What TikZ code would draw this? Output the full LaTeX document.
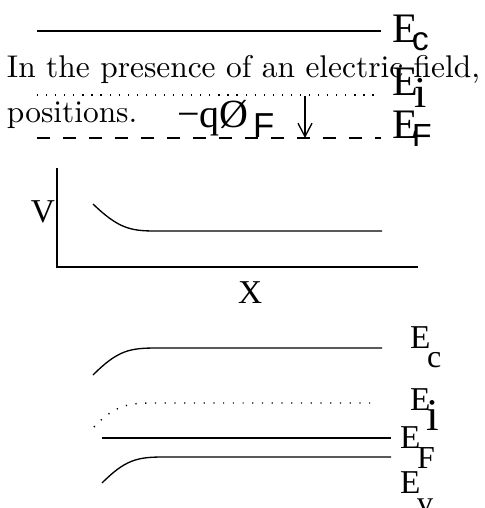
\documentclass[tikz,border=0pt]{standalone}
\usepackage{fontspec}
\newfontfamily\tms{Liberation Serif}
\newfontfamily\hlv{Liberation Sans}
\usetikzlibrary{arrows.meta}
\tikzset{
  lbl/.style={anchor=base west,inner sep=0pt,outer sep=0pt},
  band/.style={line width=1pt},
  dotline/.style={line width=1.1pt,dash pattern=on 0.9pt off 5.9pt},
  dashline/.style={line width=1pt,dash pattern=on 9.75pt off 9.75pt},
}
\newcommand{\paratext}[1]{\scalebox{2.355}{\fontsize{10}{12}\selectfont #1}}
\begin{document}
\begin{tikzpicture}[x=0.75pt,y=-0.75pt]
\useasboundingbox (0,0) rectangle (485,508);
% ---------- top band diagram ----------
\draw[band] (37,31) coordinate (ec1) -- (381,31) coordinate (ec2);
\draw[dotline] (37,95) coordinate (ei1) -- (381,95) coordinate (ei2);
\draw[dashline] (37,138) coordinate (ef1) -- (381,138) coordinate (ef2);
\node[lbl] (para) at (7,77) {\paratext{In the presence of an electric field,}};
\node[lbl] (para2) at (7,122) {\paratext{positions.}};
\node[lbl,font=\tms\fontsize{31.5}{31.5}\selectfont] (tEc) at (392,42) {E};
\node[lbl,font=\hlv\fontsize{25}{25}\selectfont] (tEcs) at (412,50) {c};
\node[lbl,font=\tms\fontsize{31.5}{31.5}\selectfont] (tEi) at (392,95) {E};
\node[lbl,font=\tms\fontsize{33}{33}\selectfont] (tEis) at (414,107) {i};
\node[lbl,font=\tms\fontsize{31.5}{31.5}\selectfont] (tEf) at (392,138) {E};
\node[lbl,font=\hlv\fontsize{24}{24}\selectfont] (tEfs) at (412,146) {F};
\node[lbl,font=\tms\fontsize{30}{30}\selectfont] (phi) at (177,127) {−qØ};
\node[lbl,font=\hlv\fontsize{26}{26}\selectfont] (phis) at (253,137) {F};
\coordinate (ar1) at (305,96);
\coordinate (ar2) at (305,138);
\draw[line width=1pt,-{Straight Barb[length=10pt,width=10.5pt,line width=1pt]}] (ar1) -- (ar2);
% ---------- potential plot ----------
\coordinate (org) at (57,267);
\draw[line width=1.2pt] (57,168) coordinate (ytop) -- (org) -- (418,267) coordinate (xend);
\node[lbl,font=\tms\fontsize{25}{25}\selectfont] (V) at (31,222) {V};
\node[lbl,font=\tms\fontsize{25}{25}\selectfont] (X) at (238,303) {X};
\draw[band] (93,204) .. controls (118,228) and (130,231) .. (155,231) -- (382,231);
% ---------- bottom band diagram ----------
\draw[band] (93,375) .. controls (118,350) and (130,348) .. (157,348) -- (382,348);
\draw[dotline,dash pattern=on 0.9pt off 6.4pt] (94,427) .. controls (112,408) and (125,403) .. (150,403) -- (377,403);
\draw[band] (102,438) -- (391,438);
\draw[band] (102,483) .. controls (125,460) and (137,457) .. (163,457) -- (391,457);
\node[lbl,font=\tms\fontsize{25}{25}\selectfont] (bEc) at (410,348) {E};
\node[lbl,font=\tms\fontsize{24}{24}\selectfont] (bEcs) at (427,367) {c};
\node[lbl,font=\tms\fontsize{25}{25}\selectfont] (bEi) at (410,410) {E};
\node[lbl,font=\tms\fontsize{34}{34}\selectfont] (bEis) at (426,430) {i};
\node[lbl,font=\tms\fontsize{25}{25}\selectfont] (bEf) at (400,448) {E};
\node[lbl,font=\tms\fontsize{24}{24}\selectfont] (bEfs) at (417,468) {F};
\node[lbl,font=\tms\fontsize{25}{25}\selectfont] (bEv) at (400,493) {E};
\node[lbl,font=\tms\fontsize{24}{24}\selectfont] (bEvs) at (417,513) {v};
\end{tikzpicture}
\end{document}
